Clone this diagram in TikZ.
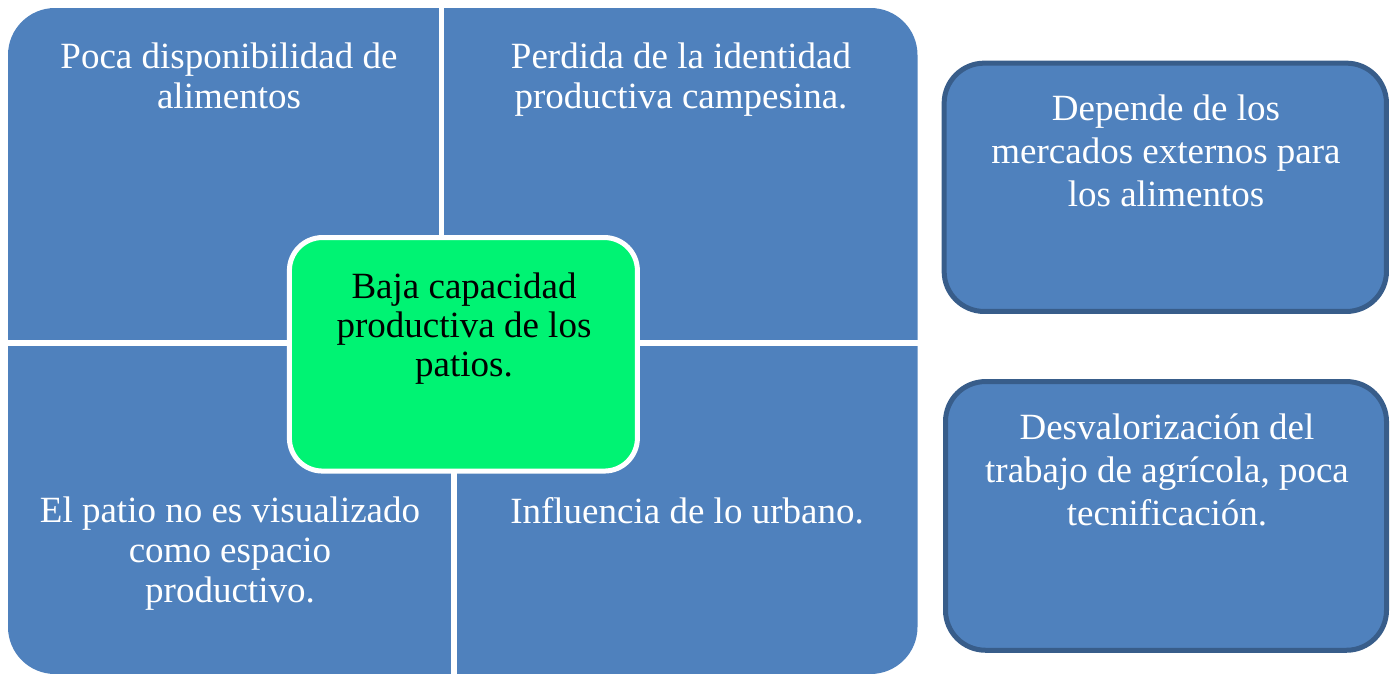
\documentclass[tikz,border=0pt]{standalone}
\usepackage{fontspec}
\setmainfont{Liberation Serif}
\definecolor{qblue}{RGB}{79,129,189}
\definecolor{qborder}{RGB}{56,93,138}
\definecolor{qgreen}{RGB}{0,243,115}
\tikzset{
  quadtext/.style={anchor=north, inner sep=0pt, align=center, text=white,
    font=\fontsize{37}{40}\selectfont},
  sidebox/.style={draw=qborder, line width=5pt, fill=qblue, rounded corners=40pt, inner sep=0pt},
  sidetext/.style={anchor=north, inner sep=0pt, align=center, text=white,
    font=\fontsize{37}{43}\selectfont},
  centerbox/.style={draw=white, line width=5pt, fill=qgreen, rounded corners=33pt, inner sep=0pt},
  centertext/.style={anchor=north, inner sep=0pt, align=center, text=black,
    font=\fontsize{37}{39}\selectfont},
}
\begin{document}
\begin{tikzpicture}[x=1pt,y=-1pt]
\useasboundingbox (0,0) rectangle (1398,673);
% matrix of four quadrants
\fill[qblue, rounded corners=47pt] (8,8) rectangle (917.5,674);
\fill[white] (438.5,0) rectangle (443.5,340);
\fill[white] (0,340) rectangle (930,345.5);
\fill[white] (451,345.5) rectangle (456.5,680);
% quadrant texts
\node[quadtext] (tl) at (229,40) {\strut Poca disponibilidad de\\\strut alimentos};
\node[quadtext] (tr) at (681,40) {\strut Perdida de la identidad\\\strut productiva campesina.};
\node[quadtext] (bl) at (230,494) {\strut El patio no es visualizado\\\strut como espacio\\\strut productivo.};
\node[quadtext] (br) at (687,495) {\strut Influencia de lo urbano.};
% center box
\node[centerbox, minimum width=348pt, minimum height=233.5pt] (c) at (463.4,354.3) {};
\node[centertext] (ct) at (464,270.7) {\strut Baja capacidad\\\strut productiva de los\\\strut patios.};
% side boxes
\node[sidebox, minimum width=442.3pt, minimum height=248.3pt] (r1) at (1165.3,187.3) {};
\node[sidetext] (r1t) at (1166,89.9) {\strut Depende de los\\\strut mercados externos para\\\strut los alimentos};
\node[sidebox, minimum width=441pt, minimum height=268.7pt] (r2) at (1166,515.9) {};
\node[sidetext] (r2t) at (1167,408.9) {\strut Desvalorización del\\\strut trabajo de agrícola, poca\\\strut tecnificación.};
\end{tikzpicture}
\end{document}
